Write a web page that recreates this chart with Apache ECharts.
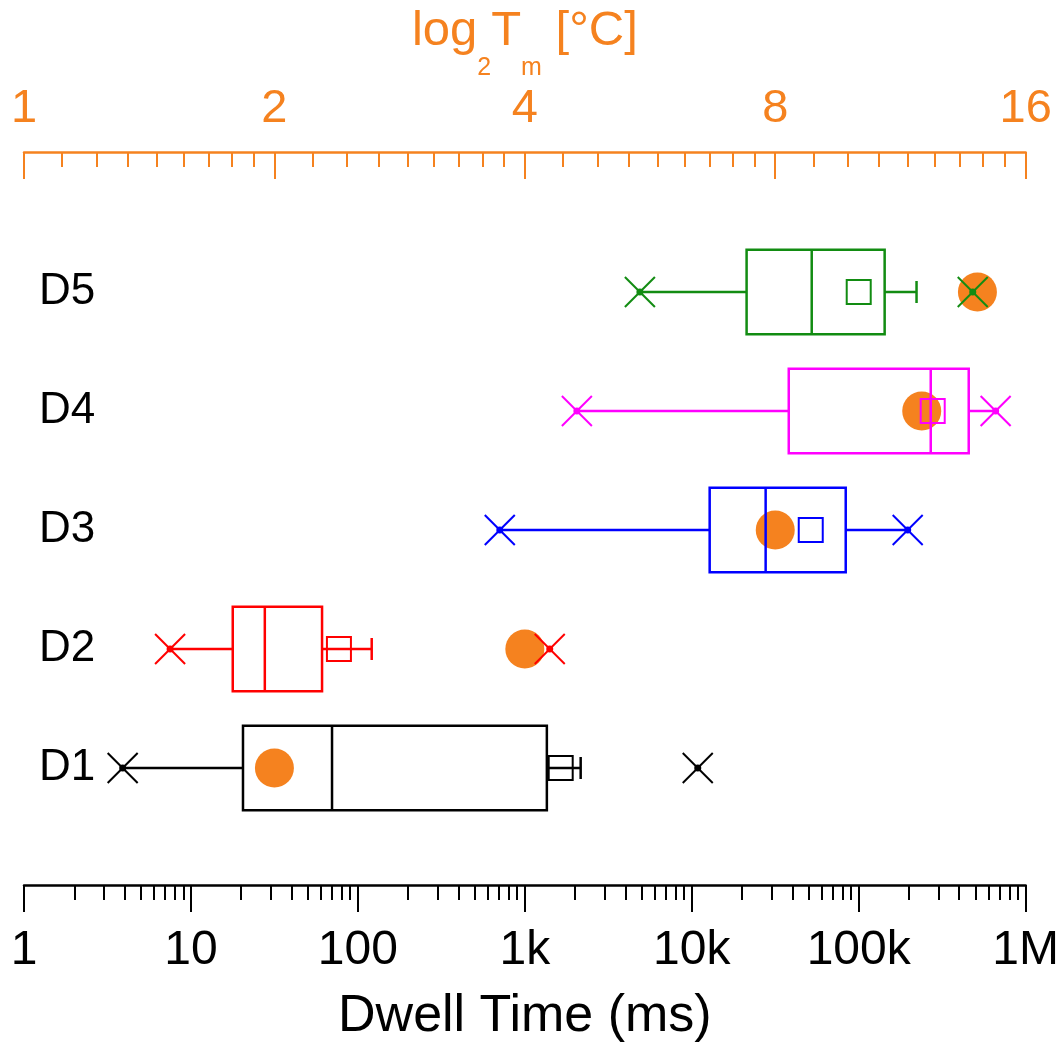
<!DOCTYPE html>
<html>
<head>
<meta charset="utf-8">
<script src="https://cdn.jsdelivr.net/npm/echarts@6/dist/echarts.min.js"></script>
<style>html,body{margin:0;padding:0;background:#fff}#chart{width:1062px;height:1051px}</style>
</head>
<body>
<div id="chart"></div>
<script>
// ---- data ----
const categories = ['D1', 'D2', 'D3', 'D4', 'D5'];
const whiskerLow = [3.9, 7.5, 708, 2050, 4890];
const q1 = [20.5, 17.8, 12800, 38100, 21300];
const median = [70, 27.7, 27700, 270000, 52300];
const q3 = [1355, 61, 83600, 456000, 143000];
const whiskerHigh = [2160, 121, 196500, 661000, 222000];
const meanVal = [1640, 77, 51600, 277500, 100000];
const minVal = [3.9, 7.5, 708, 2050, 4890];
const maxVal = [10860, 1410, 196500, 661000, 482000];
const meltingTemp = [2, 4, 8, 12, 14];
const dwellTickLabels = ['1', '10', '100', '1k', '10k', '100k', '1M'];
const tempTickLabels = ['1', '2', '4', '8', '16'];

// ---- styles ----
const rowColors = ['#000000', '#FF0000', '#0000FF', '#FF00FF', '#128C12'];
const orange = '#F5821F';
const FONT = 'Liberation Sans, Arial, sans-serif';

const boxData = categories.map((c, i) => [i, whiskerLow[i], q1[i], median[i], q3[i], whiskerHigh[i], meanVal[i], minVal[i], maxVal[i]]);
const tmData = categories.map((c, i) => [meltingTemp[i], i]);

function renderBox(params, api) {
  const row = api.value(0);
  const color = rowColors[row];
  const band = api.size([1, 1])[1];
  const h = band * 0.71;
  const P = k => api.coord([api.value(k), row]);
  const lo = P(1), b1 = P(2), md = P(3), b3 = P(4), hi = P(5), mn = P(6), mi = P(7), ma = P(8);
  const y = lo[1];
  const st = {stroke: color, lineWidth: 2.5, fill: null};
  const thin = {stroke: color, lineWidth: 2, fill: null};
  const kids = [];
  kids.push({type: 'line', shape: {x1: lo[0], y1: y, x2: b1[0], y2: y}, style: st});
  kids.push({type: 'line', shape: {x1: b3[0], y1: y, x2: hi[0], y2: y}, style: st});
  if (api.value(5) < api.value(8)) {
    kids.push({type: 'line', shape: {x1: hi[0], y1: y - 11, x2: hi[0], y2: y + 11}, style: st});
  }
  kids.push({type: 'rect', shape: {x: b1[0], y: y - h / 2, width: b3[0] - b1[0], height: h}, style: st});
  kids.push({type: 'line', shape: {x1: md[0], y1: y - h / 2, x2: md[0], y2: y + h / 2}, style: st});
  const s = 12;
  kids.push({type: 'rect', shape: {x: mn[0] - s, y: y - s, width: 2 * s, height: 2 * s}, style: thin});
  [mi, ma].forEach(p => {
    const r = 15;
    kids.push({type: 'line', shape: {x1: p[0] - r, y1: y - r, x2: p[0] + r, y2: y + r}, style: thin});
    kids.push({type: 'line', shape: {x1: p[0] - r, y1: y + r, x2: p[0] + r, y2: y - r}, style: thin});
    kids.push({type: 'circle', shape: {cx: p[0], cy: y, r: 3.5}, style: {fill: color}});
  });
  return {type: 'group', children: kids};
}

const chart = echarts.init(document.getElementById('chart'), null, {renderer: 'canvas'});
chart.setOption({
  backgroundColor: '#fff',
  animation: false,
  textStyle: {fontFamily: FONT},
  grid: {left: 24, right: 36, top: 232.5, bottom: 223.5, containLabel: false},
  xAxis: [
    {
      type: 'log', logBase: 10, min: 1, max: 1e6, splitNumber: 6,
      position: 'bottom', offset: 57.5,
      axisLine: {show: true, lineStyle: {color: '#000', width: 2.5}},
      axisTick: {show: true, inside: false, length: 27, lineStyle: {color: '#000', width: 2}},
      minorTick: {show: true, splitNumber: 9, length: 15, lineStyle: {color: '#000', width: 2}},
      splitLine: {show: false}, minorSplitLine: {show: false},
      axisLabel: {fontSize: 48, margin: 42, color: '#000', fontFamily: FONT, showMinLabel: true, showMaxLabel: true,
        formatter: v => dwellTickLabels[Math.round(Math.log10(v))]},
      name: 'Dwell Time (ms)', nameLocation: 'middle', nameGap: 106,
      nameTextStyle: {fontSize: 52, color: '#000', fontFamily: FONT}
    },
    {
      type: 'log', logBase: 2, min: 1, max: 16, splitNumber: 4,
      position: 'top', offset: 80.5,
      axisLine: {show: true, lineStyle: {color: orange, width: 2.5}},
      axisTick: {show: true, inside: true, length: 27, lineStyle: {color: orange, width: 2}},
      minorTick: {show: true, splitNumber: 9, length: 15, lineStyle: {color: orange, width: 2}},
      splitLine: {show: false}, minorSplitLine: {show: false},
      axisLabel: {fontSize: 47, margin: 19, color: orange, fontFamily: FONT, showMinLabel: true, showMaxLabel: true,
        formatter: v => tempTickLabels[Math.round(Math.log2(v))]},
      name: '{a|log}{s|2}{a|T}{s|m}{a| [°C]}', nameLocation: 'middle', nameGap: 66,
      nameTextStyle: {
        rich: {
          a: {fontSize: 49, color: orange, fontFamily: FONT, lineHeight: 50, verticalAlign: 'top'},
          s: {fontSize: 25, color: orange, fontFamily: FONT, lineHeight: 25, padding: [49, 0, 0, 0], verticalAlign: 'top'}
        }
      }
    }
  ],
  yAxis: {
    type: 'category', data: categories,
    axisLine: {show: false}, axisTick: {show: false}, splitLine: {show: false},
    axisLabel: {inside: true, margin: 15, fontSize: 44, color: '#000', fontFamily: FONT}
  },
  series: [
    {
      type: 'scatter', xAxisIndex: 1, yAxisIndex: 0, data: tmData,
      symbol: 'circle', symbolSize: 39, itemStyle: {color: orange, opacity: 1}, z: 1, silent: true
    },
    {
      type: 'custom', xAxisIndex: 0, yAxisIndex: 0, data: boxData,
      encode: {x: [1, 2, 3, 4, 5, 6, 7, 8], y: 0},
      renderItem: renderBox, z: 3, silent: true
    }
  ]
});
</script>
</body>
</html>
